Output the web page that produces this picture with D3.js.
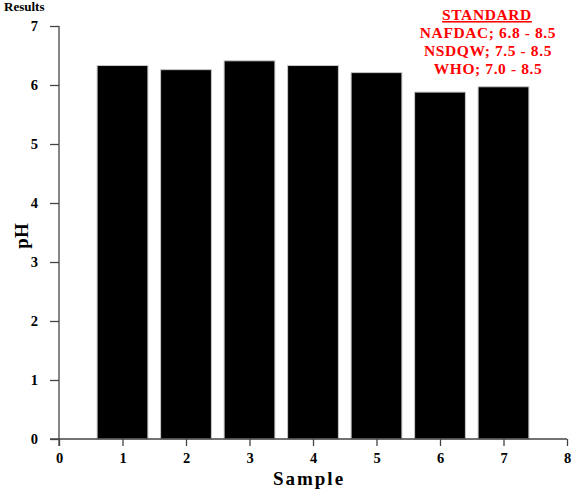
<!DOCTYPE html>
<html><head><meta charset="utf-8">
<script src="https://cdn.jsdelivr.net/npm/d3@7"></script>
<style>body{margin:0;background:#fff}svg{display:block}</style>
</head><body>
<script>
const samples = [1,2,3,4,5,6,7];
const phValues = [6.33,6.26,6.41,6.33,6.21,5.88,5.97];
const xTicks = [0,1,2,3,4,5,6,7,8];
const yTicks = [0,1,2,3,4,5,6,7];
const standardLines = ["NAFDAC; 6.8 - 8.5","NSDQW; 7.5 - 8.5","WHO; 7.0 - 8.5"];

const W=571,H=489;
const svg=d3.select("body").append("svg").attr("width",W).attr("height",H);
const font="'Liberation Serif','Times New Roman',serif";
const x=d3.scaleLinear().domain([0,8]).range([59,567]);
const y=d3.scaleLinear().domain([0,7]).range([439,26]);

// bars
svg.selectAll("rect.bar").data(samples).enter().append("rect")
 .attr("x",d=>x(d-0.4)).attr("width",d=>x(d+0.4)-x(d-0.4))
 .attr("y",(d,i)=>y(phValues[i])).attr("height",(d,i)=>y(0)-y(phValues[i]))
 .attr("fill","#000").attr("stroke","#c8c8c8").attr("stroke-width",1);

// axes
const axisColor="#444";
const xAxis=svg.append("g").attr("transform",`translate(0,${y(0)})`)
 .call(d3.axisBottom(x).tickValues(xTicks).tickSize(7).tickPadding(7).tickFormat(d3.format("d")));
xAxis.select(".domain").attr("d",`M${x(0)-9},0H${x(8)}`);
const yAxis=svg.append("g").attr("transform",`translate(${x(0)},0)`)
 .call(d3.axisLeft(y).tickValues(yTicks).tickSize(9).tickPadding(12).tickFormat(d3.format("d")));
yAxis.select(".domain").attr("d",`M0,${y(7)}V${y(0)+7}`);
[xAxis,yAxis].forEach(g=>{
 g.selectAll("path,line").attr("stroke",axisColor).attr("stroke-width",1.3);
 g.selectAll("text").attr("font-family",font).attr("font-weight","bold").attr("font-size",14.5).attr("fill","#000");
});
yAxis.selectAll("text").attr("dy","0.3em");

// labels
svg.append("text").attr("x",309).attr("y",485).attr("text-anchor","middle")
 .attr("font-family",font).attr("font-weight","bold").attr("font-size",19).attr("letter-spacing",2).text("Sample");
svg.append("text").attr("transform","translate(28,236) rotate(-90)").attr("text-anchor","middle")
 .attr("font-family",font).attr("font-weight","bold").attr("font-size",19).text("pH");
svg.append("text").attr("x",4).attr("y",11).attr("font-family",font).attr("font-weight","bold").attr("font-size",13).text("Results");

// standard
const sg=svg.append("g").attr("font-family",font).attr("font-weight","bold").attr("font-size",15.5).attr("letter-spacing",0.6).attr("fill","#ff0000").attr("text-anchor","middle");
sg.append("text").attr("x",487).attr("y",20).attr("text-decoration","underline").text("STANDARD");
sg.selectAll("text.l").data(standardLines).enter().append("text").attr("class","l")
 .attr("x",488).attr("y",(d,i)=>38+i*18).text(d=>d);
</script>
</body></html>
